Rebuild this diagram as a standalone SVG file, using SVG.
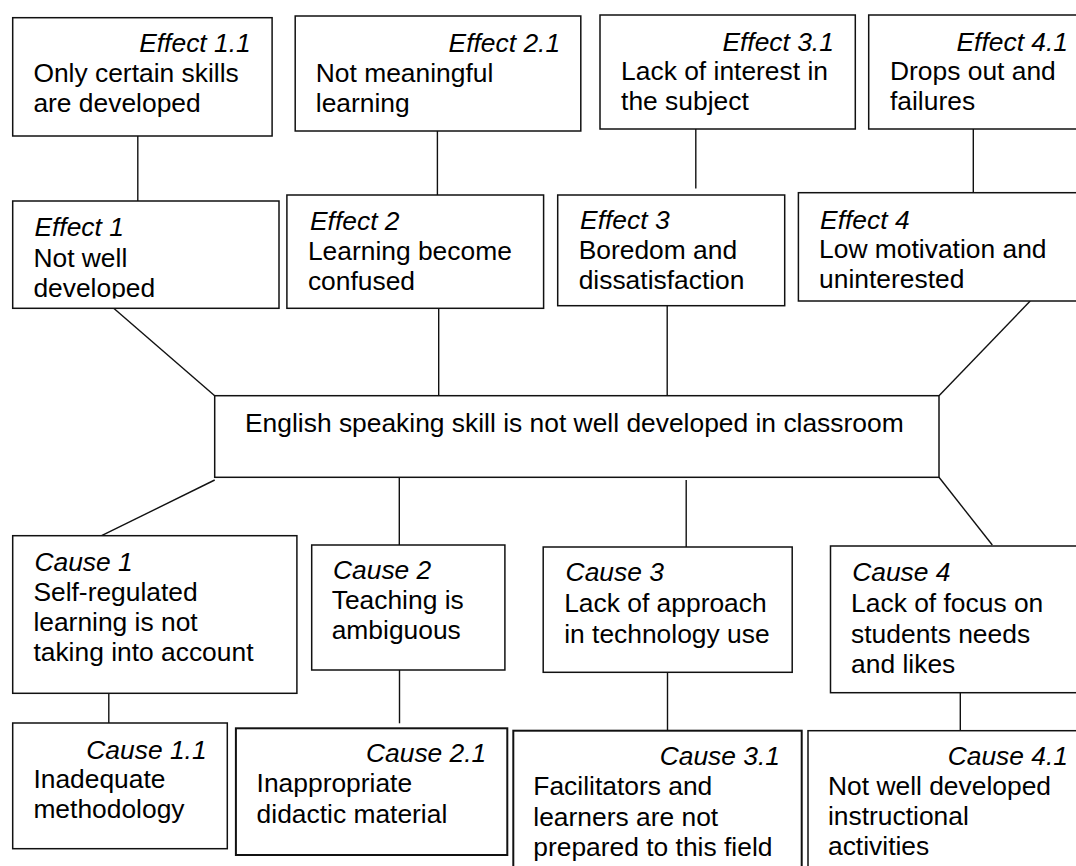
<svg xmlns="http://www.w3.org/2000/svg" width="1076" height="866" viewBox="0 0 1076 866">
<style>
.box{fill:#fff;stroke:#111;stroke-width:1.5}
.thick{stroke-width:2}
.ln{stroke:#111;stroke-width:1.4;fill:none}
text{font-family:"Liberation Sans",Arial,sans-serif;font-size:26.4px;fill:#000}
.it{font-style:italic}
.r{text-anchor:end}
</style>
<defs>
<clipPath id="clipE1"><rect x="13" y="201" width="266" height="97.5"/></clipPath>
</defs>
<rect width="1076" height="866" fill="#fff"/>
<g id="connectors">
<line class="ln" x1="137.8" y1="136" x2="137.8" y2="201"/>
<line class="ln" x1="437.4" y1="131" x2="437.4" y2="195"/>
<line class="ln" x1="695.8" y1="129" x2="695.8" y2="188.5"/>
<line class="ln" x1="973.3" y1="129" x2="973.3" y2="192.7"/>
<line class="ln" x1="113.7" y1="308.3" x2="214.7" y2="395.7"/>
<line class="ln" x1="438.7" y1="308.3" x2="438.7" y2="395.7"/>
<line class="ln" x1="667.2" y1="305.7" x2="667.2" y2="395.7"/>
<line class="ln" x1="1030.2" y1="301" x2="939" y2="395.7"/>
<line class="ln" x1="214.7" y1="480" x2="101.6" y2="535.7"/>
<line class="ln" x1="399.3" y1="477.3" x2="399.3" y2="545"/>
<line class="ln" x1="686.2" y1="480" x2="686.2" y2="547"/>
<line class="ln" x1="939" y1="477.3" x2="992.3" y2="545"/>
<line class="ln" x1="108.8" y1="689" x2="108.8" y2="723"/>
<line class="ln" x1="399.5" y1="670" x2="399.5" y2="723.3"/>
<line class="ln" x1="667.5" y1="672.3" x2="667.5" y2="730.7"/>
<line class="ln" x1="960.3" y1="692.7" x2="960.3" y2="730"/>
</g>
<g id="effect11">
<rect class="box" x="12.7" y="17.7" width="259.4" height="118.3"/>
<text class="it r" x="250.7" y="52.3">Effect 1.1</text>
<text x="33.4" y="81.7">Only certain skills</text>
<text x="33.4" y="112.3">are developed</text>
</g>
<g id="effect21">
<rect class="box" x="295.2" y="16" width="285.6" height="115"/>
<text class="it r" x="560.1" y="51.7">Effect 2.1</text>
<text x="315.8" y="81.7">Not meaningful</text>
<text x="315.8" y="111.7">learning</text>
</g>
<g id="effect31">
<rect class="box" x="600" y="15" width="255.3" height="114"/>
<text class="it r" x="833.9" y="50.7">Effect 3.1</text>
<text x="621.1" y="80">Lack of interest in</text>
<text x="621.1" y="110">the subject</text>
</g>
<g id="effect41">
<rect class="box" x="868.7" y="15" width="220" height="114"/>
<text class="it r" x="1068" y="50.7">Effect 4.1</text>
<text x="890" y="80">Drops out and</text>
<text x="890" y="110">failures</text>
</g>
<g id="effect1">
<rect class="box" x="12.7" y="201" width="266.3" height="107.3"/>
<g clip-path="url(#clipE1)">
<text class="it" x="34.4" y="236">Effect 1</text>
<text x="33.4" y="266.7">Not well</text>
<text x="33.4" y="297">developed</text>
</g>
</g>
<g id="effect2">
<rect class="box" x="286.9" y="195" width="256.7" height="113.3"/>
<text class="it" x="310" y="230">Effect 2</text>
<text x="307.9" y="260">Learning become</text>
<text x="307.9" y="290">confused</text>
</g>
<g id="effect3">
<rect class="box" x="557.7" y="195" width="227" height="110.7"/>
<text class="it" x="580.1" y="229">Effect 3</text>
<text x="578.7" y="259.3">Boredom and</text>
<text x="578.7" y="289.3">dissatisfaction</text>
</g>
<g id="effect4">
<rect class="box" x="798.4" y="192.7" width="290" height="108.3"/>
<text class="it" x="820.1" y="228.7">Effect 4</text>
<text x="819.1" y="258.3">Low motivation and</text>
<text x="819.1" y="288.3">uninterested</text>
</g>
<g id="problem">
<rect class="box" x="214.7" y="395.7" width="724.3" height="81.6"/>
<text x="245" y="431.7">English speaking skill is not well developed in classroom</text>
</g>
<g id="cause1">
<rect class="box" x="12.7" y="535.7" width="284.2" height="157.6"/>
<text class="it" x="34.4" y="570.7">Cause 1</text>
<text x="33.4" y="600.5">Self-regulated</text>
<text x="33.4" y="630.5">learning is not</text>
<text x="33.4" y="660.5">taking into account</text>
</g>
<g id="cause2">
<rect class="box" x="311.7" y="545" width="193.2" height="125"/>
<text class="it" x="333" y="579.3">Cause 2</text>
<text x="331.7" y="609.3">Teaching is</text>
<text x="331.7" y="639.3">ambiguous</text>
</g>
<g id="cause3">
<rect class="box" x="543.2" y="547" width="249" height="125.3"/>
<text class="it" x="565.6" y="581">Cause 3</text>
<text x="564.2" y="612.3">Lack of approach</text>
<text x="564.2" y="643.3">in technology use</text>
</g>
<g id="cause4">
<rect class="box" x="830.5" y="546" width="260" height="146.7"/>
<text class="it" x="852.2" y="581">Cause 4</text>
<text x="851.1" y="612.3">Lack of focus on</text>
<text x="851.1" y="642.5">students needs</text>
<text x="851.1" y="672.5">and likes</text>
</g>
<g id="cause11">
<rect class="box" x="12.7" y="723" width="214.6" height="125.7"/>
<text class="it r" x="206.6" y="759">Cause 1.1</text>
<text x="33.4" y="788.3">Inadequate</text>
<text x="33.4" y="818.3">methodology</text>
</g>
<g id="cause21">
<rect class="box thick" x="235.9" y="728.3" width="271.4" height="126.7"/>
<text class="it r" x="486.3" y="761.7">Cause 2.1</text>
<text x="256.6" y="791.7">Inappropriate</text>
<text x="256.6" y="822.5">didactic material</text>
</g>
<g id="cause31">
<rect class="box thick" x="513.3" y="730.7" width="288.4" height="150"/>
<text class="it r" x="780" y="765">Cause 3.1</text>
<text x="533.3" y="795">Facilitators and</text>
<text x="533.3" y="825.5">learners are not</text>
<text x="533.3" y="856">prepared to this field</text>
</g>
<g id="cause41">
<rect class="box" x="808" y="730.7" width="280" height="150"/>
<text class="it r" x="1068" y="765">Cause 4.1</text>
<text x="828" y="795">Not well developed</text>
<text x="828" y="825">instructional</text>
<text x="828" y="855">activities</text>
</g>
</svg>
